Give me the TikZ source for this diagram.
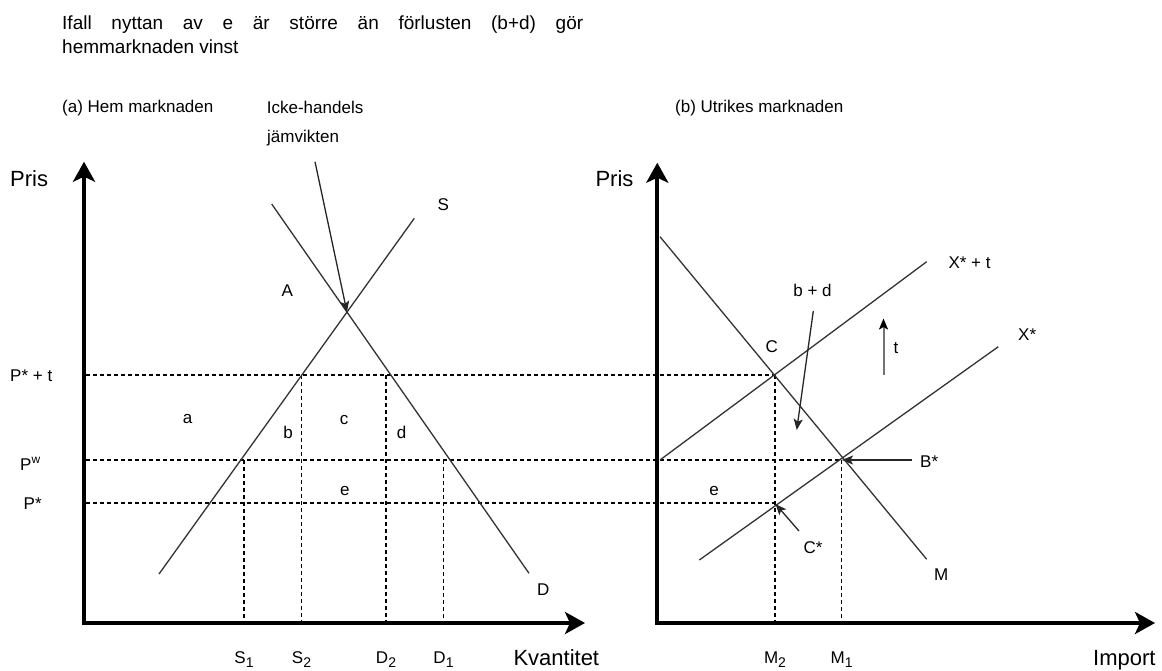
\documentclass[tikz,border=0pt]{standalone}
\usepackage{fontspec}
\setmainfont{Liberation Sans}
\usetikzlibrary{arrows.meta}
\newcommand{\mysub}[1]{\raisebox{-0.28em}{\fontsize{14}{14}\selectfont #1}}
\begin{document}
\begin{tikzpicture}[x=1pt,y=-1pt,
  axis/.style={line width=4pt, line join=miter,
    {Stealth[length=20pt,width=22pt,inset=5pt]}-{Stealth[length=20pt,width=22pt,inset=5pt]}},
  curve/.style={line width=1.3pt, black!80},
  guide/.style={line width=1.2pt, dash pattern=on 4pt off 3pt},
  pointer/.style={line width=1.3pt, black!85, -{Stealth[length=11pt,width=9pt,inset=2.5pt]}},
  lbl/.style={inner sep=0, anchor=base, font=\fontsize{17}{20}\selectfont},
  lblw/.style={inner sep=0, anchor=base west, font=\fontsize{17}{20}\selectfont},
  big/.style={inner sep=0, anchor=base west, font=\fontsize{22}{26}\selectfont},
]
\useasboundingbox (0,0) rectangle (1162,670);
\fill[white] (0,0) rectangle (1162,670);

% title
\node[inner sep=0, anchor=base west, font=\fontsize{19}{24}\selectfont] (title1) at (62,29.3)
  {\hbox to 521pt{Ifall\hfill nyttan\hfill av\hfill e\hfill är\hfill större\hfill än\hfill förlusten\hfill (b+d)\hfill gör}};
\node[inner sep=0, anchor=base west, font=\fontsize{19}{24}\selectfont] (title2) at (62,53.3) {hemmarknaden vinst};

% ---------- coordinates, left panel
\coordinate (LO) at (84,623);
\coordinate (LY) at (84,161.7);
\coordinate (LX) at (585,623);
\coordinate (Sa) at (159,574);
\coordinate (Sb) at (414.3,218.3);
\coordinate (Da) at (271.7,204);
\coordinate (Db) at (529,573.3);
\coordinate (E) at (intersection of Sa--Sb and Da--Db);
\coordinate (Iq) at (315,161.7);
\coordinate (Ppt) at (86,375);
\coordinate (Pwl) at (86,460);
\coordinate (Psl) at (86,503);
\coordinate (s1t) at (244,460);   \coordinate (s1b) at (244,621);
\coordinate (s2t) at (301.5,375); \coordinate (s2b) at (301.5,621);
\coordinate (d2t) at (386,375);   \coordinate (d2b) at (386,621);
\coordinate (d1t) at (443.5,460); \coordinate (d1b) at (443.5,621);

% ---------- coordinates, right panel
\coordinate (RO) at (657.3,623);
\coordinate (RY) at (657.3,162.7);
\coordinate (RX) at (1155,623);
\coordinate (Ma) at (660,236.7);
\coordinate (Mb) at (926.7,559.3);
\coordinate (Xta) at (660,460);
\coordinate (Xtb) at (926.7,261.7);
\coordinate (Xa) at (699.3,560);
\coordinate (Xb) at (998.3,346.7);
\coordinate (C) at (774.3,375);
\coordinate (Bs) at (842,460);
\coordinate (Cs) at (775.5,504);
\coordinate (Csd) at (775,503);
\coordinate (bd0) at (813.3,311);
\coordinate (bd1) at (796.7,430);
\coordinate (t0) at (883.5,375);
\coordinate (t1) at (883.5,318.5);
\coordinate (bs0) at (912.3,460);
\coordinate (cs0) at (799,531);
\coordinate (m2t) at (775,375);   \coordinate (m2b) at (775,621);
\coordinate (m1t) at (841.7,460); \coordinate (m1b) at (841.7,621);

% ---------- dashed guides
\draw[guide] (Ppt) -- (C);
\draw[guide] (Pwl) -- (Bs);
\draw[guide] (Psl) -- (Csd);
\draw[guide] (s1t) -- (s1b);
\draw[guide] (s2t) -- (s2b);
\draw[guide] (d2t) -- (d2b);
\draw[guide] (d1t) -- (d1b);
\draw[guide] (m2t) -- (m2b);
\draw[guide] (m1t) -- (m1b);

% ---------- curves
\draw[curve] (Sa) -- (Sb);
\draw[curve] (Da) -- (Db);
\draw[curve] (Ma) -- (Mb);
\draw[curve] (Xta) -- (Xtb);
\draw[curve] (Xa) -- (Xb);

% ---------- pointers
\draw[pointer] (Iq) -- (E);
\draw[pointer] (bd0) -- (bd1);
\draw[pointer] (bs0) -- (Bs);
\draw[pointer] (cs0) -- (Cs);
\draw[line width=2pt, black!55, -{Stealth[length=11pt,width=9pt,inset=2.5pt,color=black]}] (t0) -- (t1);

% ---------- axes
\draw[axis] (LY) -- (LO) -- (LX);
\draw[axis] (RY) -- (RO) -- (RX);

% ---------- labels, left
\node[lblw] (ha) at (62,112) {(a) Hem marknaden};
\node[lblw] (ick1) at (266.7,113) {Icke-handels};
\node[lblw] (ick2) at (267,142) {jämvikten};
\node[big] (prisL) at (10,186) {Pris};
\node[big] (kv) at (513.3,665) {Kvantitet};
\node[lbl] (Slab) at (443.3,210) {S};
\node[lbl] (Alab) at (287.3,296) {A};
\node[lbl] (Dlab) at (543.3,595.5) {D};
\node[lbl] (alab) at (187.7,423.5) {a};
\node[lbl] (blab) at (288,438.5) {b};
\node[lbl] (clab) at (344,424) {c};
\node[lbl] (dlab) at (401.5,438.5) {d};
\node[lbl] (elab) at (344.8,495.5) {e};
\node[lblw] (ppt) at (10,381) {P* + t};
\node[lblw] (pw) at (20,470) {P\textsuperscript{w}};
\node[lblw] (ps) at (23.5,509) {P*};
\node[lbl] (S1l) at (244,663) {S\mysub{1}};
\node[lbl] (S2l) at (301.5,663) {S\mysub{2}};
\node[lbl] (D2l) at (386,663) {D\mysub{2}};
\node[lbl] (D1l) at (443.5,663) {D\mysub{1}};

% ---------- labels, right
\node[lblw] (hb) at (675,112) {(b) Utrikes marknaden};
\node[big] (prisR) at (595.3,186) {Pris};
\node[big] (imp) at (1093,665) {Import};
\node[lbl] (Clab) at (771.7,352.8) {C};
\node[lbl] (bdlab) at (812.5,296.7) {b + d};
\node[lblw] (xtlab) at (948.3,268) {X* + t};
\node[lblw] (tlab) at (893.5,353) {t};
\node[lblw] (xlab) at (1018,340) {X*};
\node[lblw] (bslab) at (920,467) {B*};
\node[lbl] (e2lab) at (714,495.5) {e};
\node[lblw] (cslab) at (803.3,553) {C*};
\node[lblw] (Mlab) at (934,580.7) {M};
\node[lbl] (M2l) at (775,663) {M\mysub{2}};
\node[lbl] (M1l) at (841.7,663) {M\mysub{1}};
\end{tikzpicture}
\end{document}
